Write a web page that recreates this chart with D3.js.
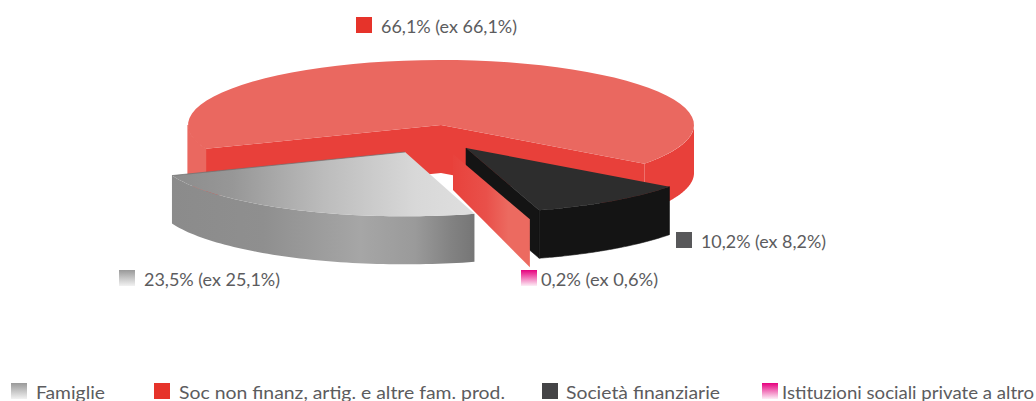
<!DOCTYPE html>
<html><head><meta charset="utf-8">
<script src="https://cdn.jsdelivr.net/npm/d3@7/dist/d3.min.js"></script>
<style>html,body{margin:0;padding:0;background:#fff;overflow:hidden}svg{display:block}</style>
</head><body><svg id="c" width="1036" height="401"></svg>
<script>
const categories = ["Soc non finanz, artig. e altre fam. prod.", "Società finanziarie", "Istituzioni sociali private a altro", "Famiglie"];
const shares = [66.1, 10.2, 0.2, 23.5];
const previous = [66.1, 8.2, 0.6, 25.1];
const legendOrder = ["Famiglie", "Soc non finanz, artig. e altre fam. prod.", "Società finanziarie", "Istituzioni sociali private a altro"];

const svg = d3.select("#c");
const defs = svg.append("defs");
const FONT = "Lato, 'Noto Sans', sans-serif";
const TXT = "#5c5c5e";
const deg = Math.PI / 180;
const cx = 441, cy = 125, rx = 253, ry = 65, depth = 48;
const sx = d3.scaleLinear().domain([-1, 1]).range([cx - rx, cx + rx]);
const sy = d3.scaleLinear().domain([-1, 1]).range([cy - ry, cy + ry]);
const startA = 248.5 * deg;
const arcs = d3.pie().sort(null).value(d => d).startAngle(startA).endAngle(startA + 2 * Math.PI)(shares);
const [aRed, aBlack, aPink, aGray] = arcs;
const pt = (a, o = {}) => {
  const r = o.r === undefined ? 1 : o.r;
  return [sx(r * Math.sin(a)) + (o.ox || 0), sy(-r * Math.cos(a)) + (o.oy || 0) + (o.d || 0)];
};
const apex = (o = {}) => [cx + (o.ox || 0), cy + (o.oy || 0) + (o.d || 0)];
const pathLine = d3.line();
const poly = p => pathLine(p) + "Z";
const rim = (a0, a1, o) => d3.range(0, 61).map(i => pt(a0 + (a1 - a0) * i / 60, o));
const wall = (a0, a1, o) => poly(rim(a0, a1, o).concat(rim(a1, a0, { ...o, d: depth })));
const face = (a0, a1, o) => poly([apex(o)].concat(rim(a0, a1, o)));
function grad(id, x1, x2, y1, y2, stops) {
  const g = defs.append("linearGradient").attr("id", id).attr("gradientUnits", "userSpaceOnUse")
    .attr("x1", x1).attr("x2", x2).attr("y1", y1).attr("y2", y2);
  stops.forEach(s => g.append("stop").attr("offset", s[0]).attr("stop-color", s[1]));
  return `url(#${id})`;
}
const draw = (d, fill) => svg.append("path").attr("d", d).attr("fill", fill);

// Red slice
const rLight = "#ea6860", rDark = "#e8403a";
draw(wall(Math.PI / 2, aRed.endAngle - 2 * Math.PI, {}), rDark);
draw(poly([pt(startA), apex(), apex({ d: depth }), pt(startA, { d: depth })]), rDark);
draw(poly([pt(aRed.endAngle), apex(), apex({ d: depth }), pt(aRed.endAngle, { d: depth })]), rDark);
draw(face(aRed.startAngle, aRed.endAngle, {}), rLight);
draw(wall(startA, Math.PI * 1.5, {}), rLight).attr("stroke", rLight).attr("stroke-width", 1.2);

// Black slice
const bO = { ox: 25, oy: 23 };
const ba0 = aBlack.startAngle - 2 * Math.PI, ba1 = aBlack.endAngle - 2 * Math.PI;
draw(poly([apex(bO), pt(ba1, bO), pt(ba1, { ...bO, d: depth }), apex({ ...bO, d: depth })]), "#141414").attr("stroke", "#141414").attr("stroke-width", 0.6);
draw(wall(ba0, ba1, bO), "#141414").attr("stroke", "#141414").attr("stroke-width", 0.6);
draw(face(ba0, ba1, bO), "#2d2d2d");

// Thin slice: only its cut face shows
const pO = { ox: 12, oy: 29, r: 1.05 };
const pa = aPink.startAngle - 2 * Math.PI;
draw(poly([apex(pO), pt(pa, pO), pt(pa, { ...pO, d: depth }), apex({ ...pO, d: 36 })]),
  grad("gSliver", 453, 527, 0, 0, [[0, "#e8423c"], [0.45, "#e9504a"], [0.75, "#ec6a60"]]));

// Grey slice
const gO = { ox: -36, oy: 27, r: 0.99 };
const ga0 = aGray.startAngle - 2 * Math.PI, ga1 = aGray.endAngle - 2 * Math.PI;
draw(wall(ga0, ga1, gO), grad("gWall", 172, 476, 0, 0,
  [[0, "#8b8b8b"], [0.3, "#8f8f8f"], [0.62, "#a6a6a6"], [0.8, "#9a9a9a"], [0.92, "#828282"], [1, "#757575"]]));
draw(face(ga0, ga1, gO), grad("gTop", 172, 476, 0, 0,
  [[0, "#8c8c8c"], [0.2, "#979797"], [0.5, "#bcbcbc"], [0.8, "#d8d8d8"], [1, "#dfdfdf"]]));
svg.append("path").attr("d", pathLine([pt(ga1, gO), apex(gO)])).attr("stroke", "#6e6e6e").attr("stroke-width", 0.7).attr("fill", "none");

// Swatches and texts
const swGray = grad("sGray", 0, 0, 0, 1, [[0, "#999"], [1, "#f2f2f2"]]);
defs.select("#sGray").attr("gradientUnits", "objectBoundingBox");
const swPink = grad("sPink", 0, 0, 0, 1, [[0, "#e6007e"], [1, "#fdeef6"]]);
defs.select("#sPink").attr("gradientUnits", "objectBoundingBox");
const legendFill = { "Famiglie": swGray, "Soc non finanz, artig. e altre fam. prod.": "#e6332a", "Società finanziarie": "#444446", "Istituzioni sociali private a altro": swPink };
const labelFill = { "Famiglie": swGray, "Soc non finanz, artig. e altre fam. prod.": "#e6332a", "Società finanziarie": "#58585a", "Istituzioni sociali private a altro": swPink };
const labelPos = {
  "Soc non finanz, artig. e altre fam. prod.": [356, 17, 381, 136, 33],
  "Società finanziarie": [676, 232, 701, 125, 248],
  "Istituzioni sociali private a altro": [521, 270, 541, 117, 286],
  "Famiglie": [119, 270, 144, 136, 286]
};
const fmt = v => d3.format(".1f")(v).replace(".", ",");
const label = (x, y, w, s) => svg.append("text").attr("x", x).attr("y", y).attr("textLength", w)
  .attr("lengthAdjust", "spacingAndGlyphs").attr("font-family", FONT).attr("font-size", 17.5).attr("fill", TXT).text(s);
categories.forEach((c, i) => {
  const p = labelPos[c];
  svg.append("rect").attr("x", p[0]).attr("y", p[1]).attr("width", 16).attr("height", 16).attr("fill", labelFill[c]);
  label(p[2], p[4], p[3], `${fmt(shares[i])}% (ex ${fmt(previous[i])}%)`);
});
const legendPos = [[11, 36, 69], [154, 179, 326], [542, 566, 154], [762, 782, 252]];
legendOrder.forEach((c, i) => {
  const p = legendPos[i];
  svg.append("rect").attr("x", p[0]).attr("y", 383).attr("width", 16).attr("height", 16).attr("fill", legendFill[c]);
  label(p[1], 399, p[2], c);
});
</script></body></html>
